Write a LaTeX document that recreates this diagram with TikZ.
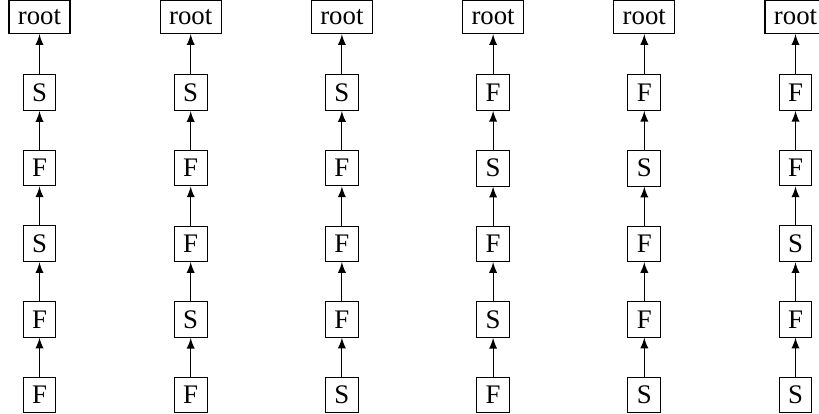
\documentclass[tikz,border=0pt]{standalone}
\usepackage{fontspec}
\setmainfont{Liberation Serif}
\begin{document}
\begin{tikzpicture}[x=0.3731pt,y=-0.3731pt,
  box/.style={draw,inner sep=3.33pt,line width=0.4pt},
  arr/.style={-latex,line width=0.4pt}]
\useasboundingbox (0,0) rectangle (819,414);
\foreach \i/\a/\b/\c/\d/\e in {0/S/F/S/F/F, 1/S/F/F/S/F, 2/S/F/F/F/S, 3/F/S/F/S/F, 4/F/S/F/F/S, 5/F/F/S/F/S}{
  \pgfmathsetmacro{\cx}{39.5+151.2*\i}
  \node[box] (n\i-0) at (\cx,17) {root};
  \node[box] (n\i-1) at (\cx,92.6) {\a};
  \node[box] (n\i-2) at (\cx,168.2) {\b};
  \node[box] (n\i-3) at (\cx,243.8) {\c};
  \node[box] (n\i-4) at (\cx,319.4) {\d};
  \node[box] (n\i-5) at (\cx,395) {\e};
  \draw[arr] (n\i-1) -- (n\i-0);
  \draw[arr] (n\i-2) -- (n\i-1);
  \draw[arr] (n\i-3) -- (n\i-2);
  \draw[arr] (n\i-4) -- (n\i-3);
  \draw[arr] (n\i-5) -- (n\i-4);
}
\end{tikzpicture}
\end{document}
